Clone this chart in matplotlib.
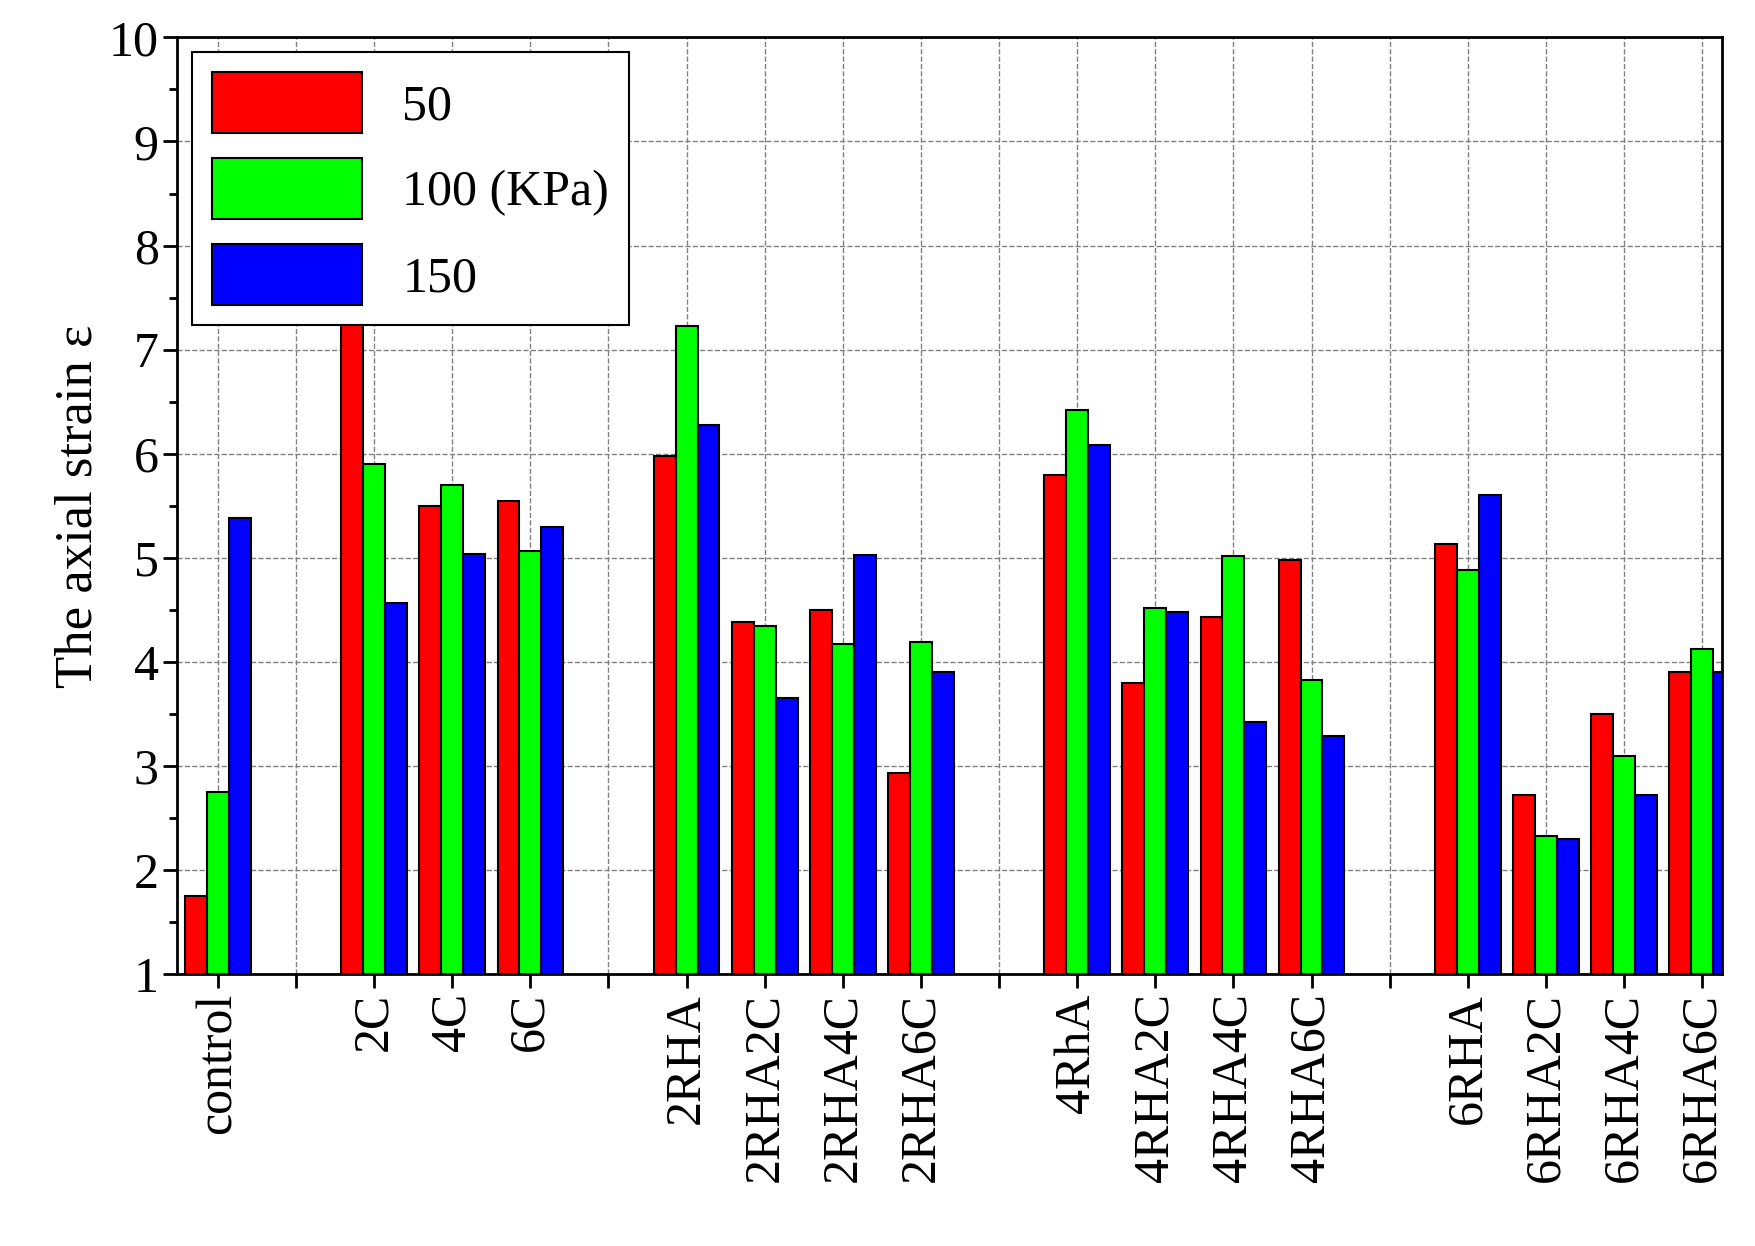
import numpy as np
import matplotlib
matplotlib.use("Agg")
import matplotlib.pyplot as plt
from matplotlib.ticker import MultipleLocator

plt.rcParams['font.family'] = ['Liberation Serif', 'DejaVu Serif']

labels = ['control', '', '2C', '4C', '6C', '',
          '2RHA', '2RHA2C', '2RHA4C', '2RHA6C', '',
          '4RhA', '4RHA2C', '4RHA4C', '4RHA6C', '',
          '6RHA', '6RHA2C', '6RHA4C', '6RHA6C']
# None = empty slot between groups
s50 = [1.75, None, 7.35, 5.50, 5.55, None, 5.98, 4.38, 4.50, 2.93, None,
       5.80, 3.80, 4.43, 4.98, None, 5.13, 2.72, 3.50, 3.90]
s100 = [2.75, None, 5.90, 5.70, 5.07, None, 7.23, 4.35, 4.17, 4.19, None,
        6.42, 4.52, 5.02, 3.83, None, 4.88, 2.33, 3.10, 4.13]
s150 = [5.38, None, 4.57, 5.04, 5.30, None, 6.28, 3.65, 5.03, 3.90, None,
        6.08, 4.48, 3.42, 3.29, None, 5.60, 2.30, 2.72, 3.90]
series = [('50', s50, '#ff0000'), ('100 (KPa)', s100, '#00ff00'), ('150', s150, '#0000ff')]

fig = plt.figure(figsize=(17.55, 12.46), dpi=100)
ax = fig.add_axes([0.101, 0.218, 0.88, 0.752])
w = 0.28
x = np.arange(len(labels))
for k, (name, vals, col) in enumerate(series):
    xs = [xi + (k - 1) * w for xi, v in zip(x, vals) if v is not None]
    hs = [v - 1 for v in vals if v is not None]
    ax.bar(xs, hs, width=w, bottom=1, color=col, edgecolor='black', linewidth=1.5, label=name, zorder=3)

ax.set_xlim(-0.52, 19.25)
ax.set_ylim(1, 10)
ax.set_xticks(x)
ax.set_xticklabels(labels, rotation=90, fontsize=36)
ax.yaxis.set_major_locator(MultipleLocator(1))
ax.yaxis.set_minor_locator(MultipleLocator(0.5))
ax.tick_params(axis='y', labelsize=36, width=2, length=10, direction='out')
ax.tick_params(axis='y', which='minor', width=2, length=6)
ax.tick_params(axis='x', width=2, length=10)
ax.set_ylabel('The axial strain ε', fontsize=38)
ax.grid(True, linestyle='--', color='gray', linewidth=1, zorder=0)
for sp in ax.spines.values():
    sp.set_linewidth(2)
leg = ax.legend(loc='upper left', fontsize=36, fancybox=False, edgecolor='black',
                handlelength=3, handleheight=1.5, borderaxespad=0.3, framealpha=1)
leg.get_frame().set_linewidth(1.5)
fig.savefig('out.png')
